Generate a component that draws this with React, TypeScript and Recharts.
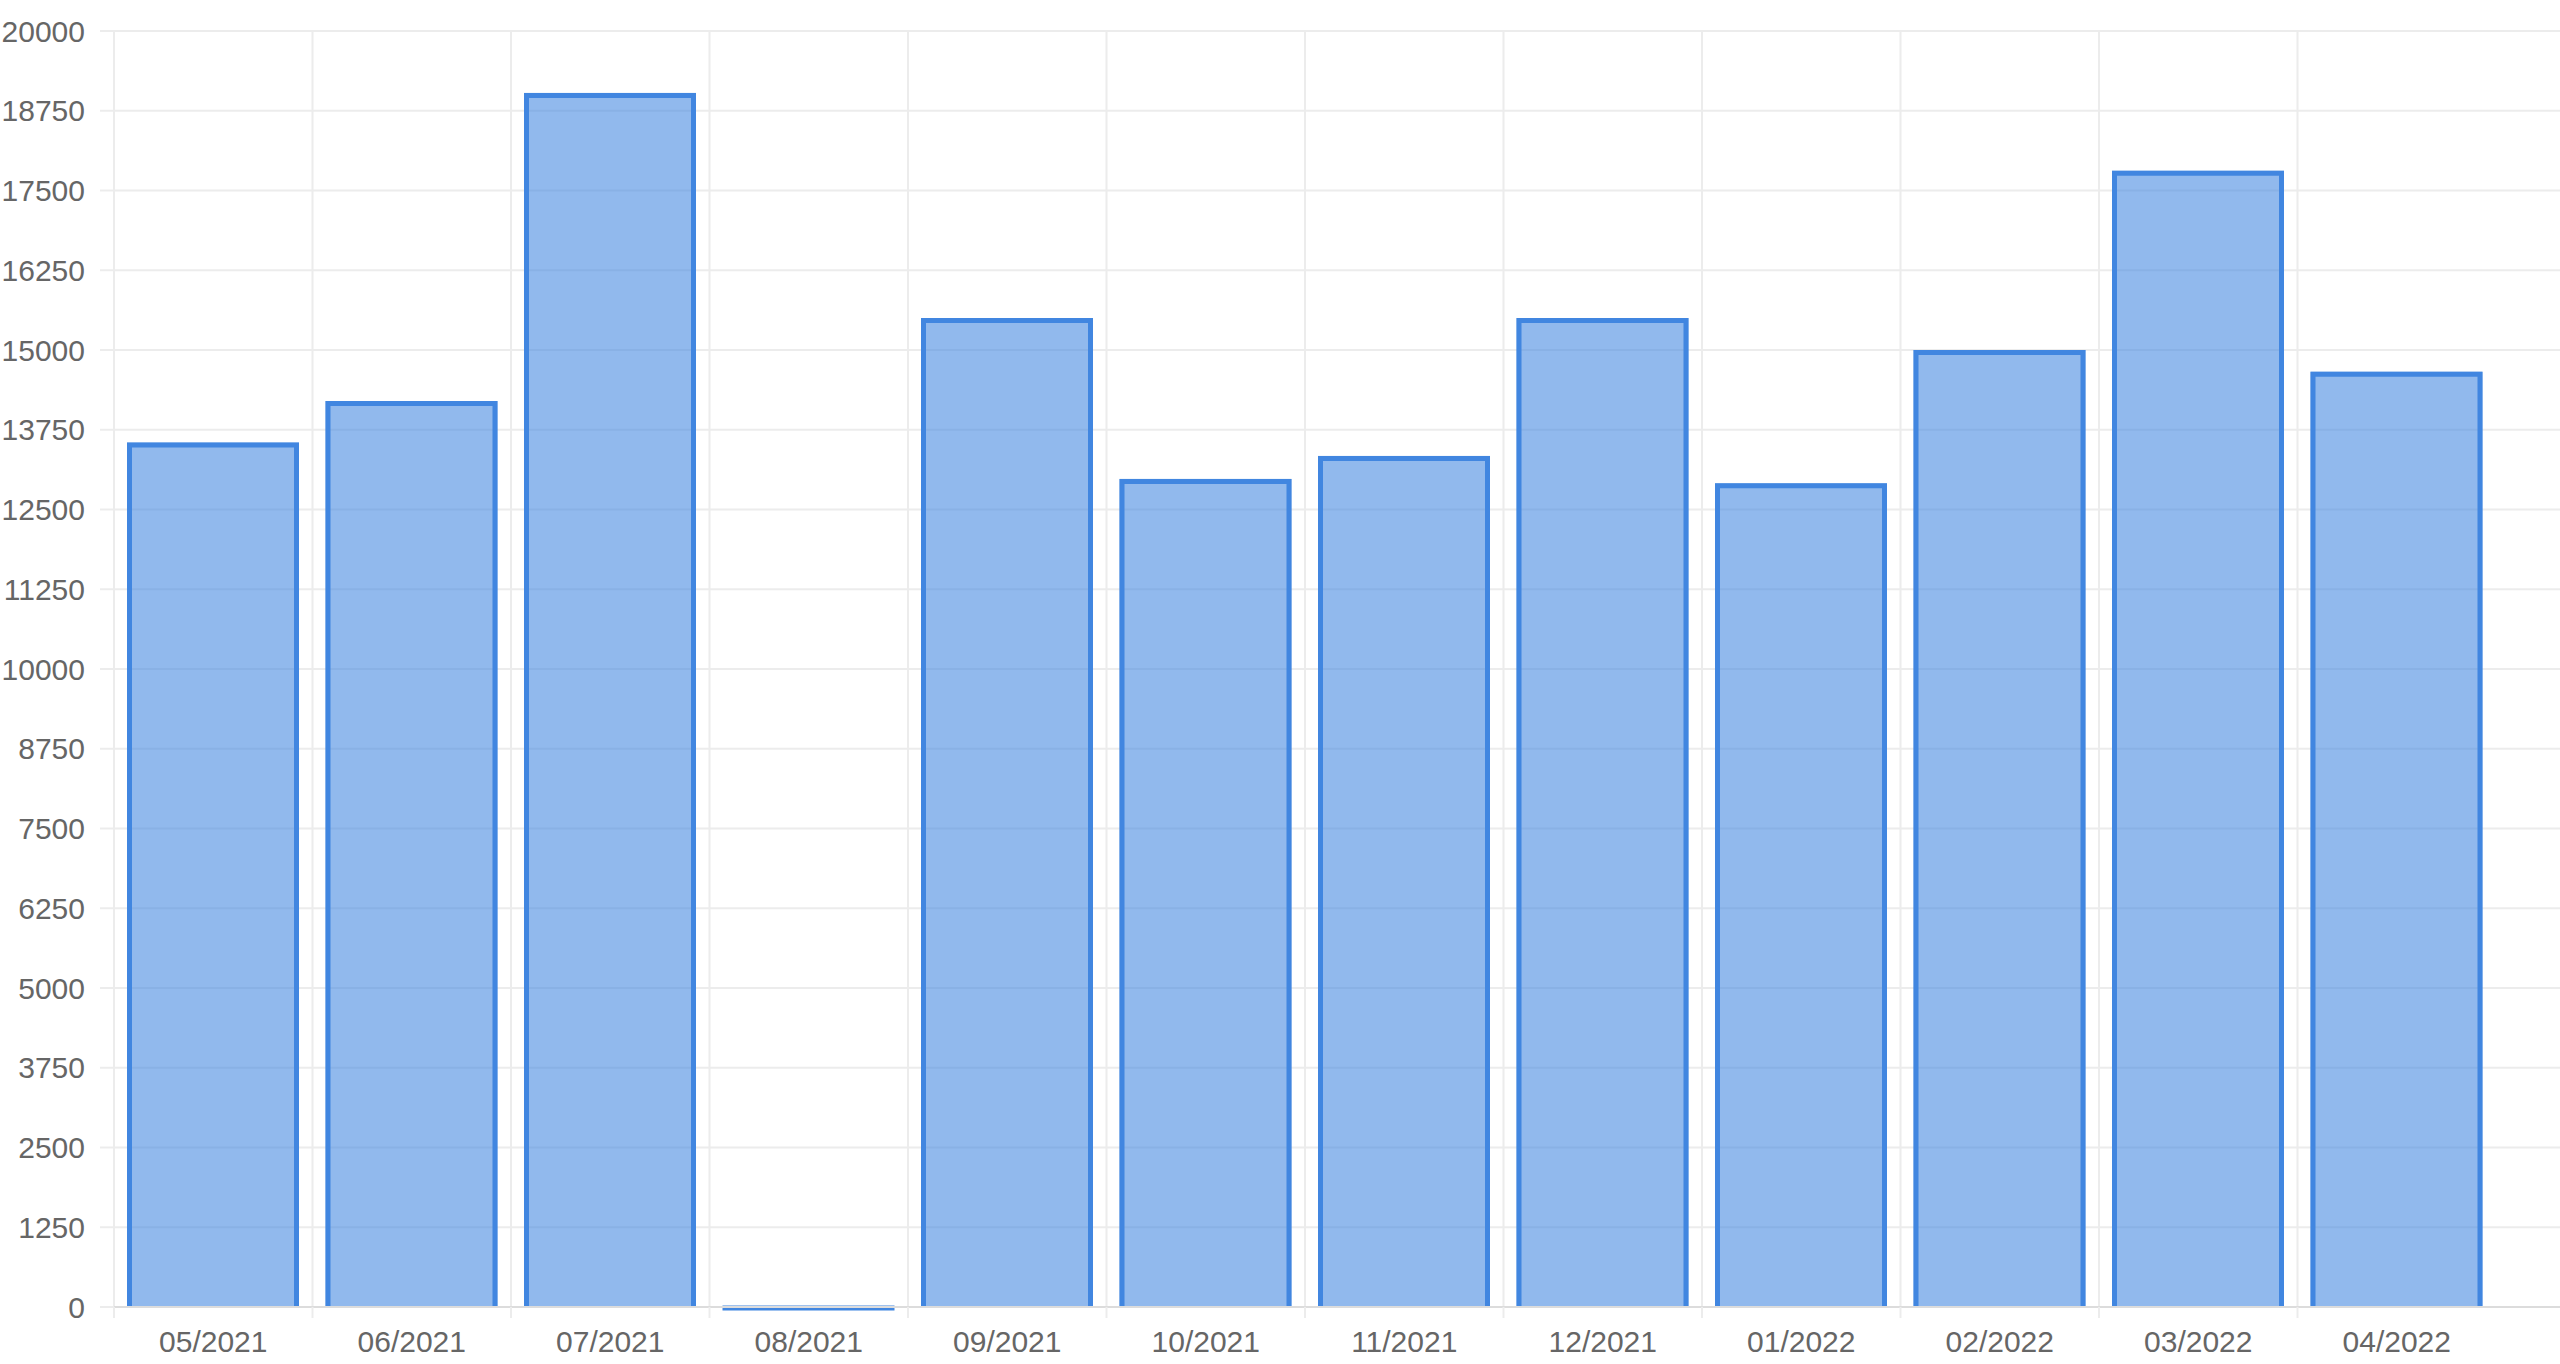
import React from "react";
import { BarChart, Bar, XAxis, YAxis, CartesianGrid } from "recharts";

const months = [
  "05/2021", "06/2021", "07/2021", "08/2021", "09/2021", "10/2021",
  "11/2021", "12/2021", "01/2022", "02/2022", "03/2022", "04/2022",
];
const values = [13550, 14200, 19030, 0, 15500, 12980, 13340, 15500, 12910, 15000, 17810, 14660];
const yTicks = [0, 1250, 2500, 3750, 5000, 6250, 7500, 8750, 10000, 11250, 12500, 13750, 15000, 16250, 17500, 18750, 20000];

const data = months.map((m, i) => ({ month: m, value: values[i] }));

const BLUE = "#4186e0";
const GRID = "#ececec";
const TEXT = "#666666";
const FONT = "'Liberation Sans', Arial, Helvetica, sans-serif";
const SW = 5;
const PAD_RIGHT = 64;

const BarShape = (p: any) => {
  const { x, y, width, height } = p;
  const h = SW / 2;
  if (!height || height < 1) {
    return <line x1={x} x2={x + width} y1={y + 1} y2={y + 1} stroke={BLUE} strokeWidth={SW} />;
  }
  return (
    <g>
      <rect x={x} y={y} width={width} height={height} fill={BLUE} fillOpacity={0.58} />
      <path
        d={`M${x + h},${y + height} L${x + h},${y + h} L${x + width - h},${y + h} L${x + width - h},${y + height}`}
        fill="none"
        stroke={BLUE}
        strokeWidth={SW}
      />
    </g>
  );
};

const XTick = (p: any) => {
  const { x, y, payload } = p;
  const off = payload && payload.offset ? payload.offset : 0;
  const axisY = y - 24;
  return (
    <g>
      <line x1={x - off} x2={x - off} y1={axisY} y2={axisY + 11} stroke={GRID} strokeWidth={2} />
      <text x={x} y={y} dy="0.71em" textAnchor="middle" fill={TEXT} fontSize={30} fontFamily={FONT}>
        {payload.value}
      </text>
    </g>
  );
};

const vGen = (props: any) => {
  try {
    const xa = props.xAxis;
    const scale = xa && xa.scale;
    if (typeof scale === "function") {
      const pts = months.map((m) => scale(m)).filter((v: any) => typeof v === "number" && !isNaN(v));
      if (pts.length === months.length) return pts;
    }
    if (scale && typeof scale.map === "function") {
      const pts = months.map((m) => scale.map(m)).filter((v: any) => typeof v === "number" && !isNaN(v));
      if (pts.length === months.length) return pts;
    }
  } catch (e) {
    // fall through
  }
  const off = props.offset || {};
  const left = off.left ?? 114;
  const w = (off.width ?? 2446) - PAD_RIGHT;
  return months.map((_, i) => left + (i * w) / months.length);
};

export default function App() {
  return (
    <div style={{ position: "absolute", left: 0, top: 0, width: 2560, height: 1364, overflow: "hidden", background: "#fff" }}>
      <BarChart
        width={2560}
        height={1364}
        data={data}
        margin={{ top: 31, right: 0, bottom: 0, left: 0 }}
        barSize={172}
      >
        <CartesianGrid stroke={GRID} strokeWidth={2} verticalCoordinatesGenerator={vGen} />
        <XAxis
          dataKey="month"
          height={57}
          padding={{ left: 0, right: PAD_RIGHT }}
          axisLine={{ stroke: "#dcdcdc", strokeWidth: 2 }}
          tickLine={false}
          tickSize={10}
          tickMargin={14}
          tick={<XTick />}
          interval={0}
        />
        <YAxis
          width={114}
          domain={[0, 20000]}
          ticks={yTicks}
          interval={0}
          axisLine={false}
          tickLine={{ stroke: GRID, strokeWidth: 2 }}
          tickSize={14}
          tickMargin={15}
          tick={{ fill: TEXT, fontSize: 30, fontFamily: FONT }}
        />
        <Bar dataKey="value" shape={<BarShape />} isAnimationActive={false} />
      </BarChart>
    </div>
  );
}
